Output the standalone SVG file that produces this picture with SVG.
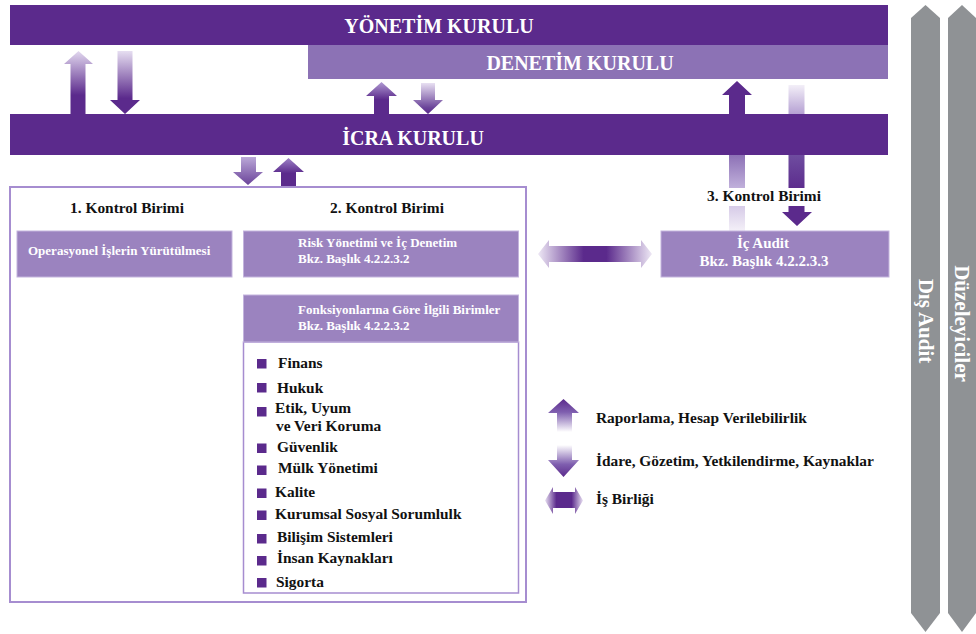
<svg xmlns="http://www.w3.org/2000/svg" width="976" height="634" viewBox="0 0 976 634" font-family="'Liberation Serif', 'DejaVu Serif', serif">
<style>
.bar{fill:#5B2A8C}
.bar2{fill:#8C72B5}
.box{fill:#9B83BF;stroke:#C3B4DD;stroke-width:1}
.frame{fill:#FFFFFF;stroke:#A68DD0;stroke-width:2}
.list{fill:#FFFFFF;stroke:#A68DD0;stroke-width:1.5}
.gray{fill:#8F9295}
.bul{fill:#5B2A8C}
text{font-family:'Liberation Serif','DejaVu Serif',serif;font-weight:bold}
.hdr{font-size:20px;fill:#FFFFFF;text-anchor:middle}
.wt{font-size:13px;fill:#FFFFFF}
.wt15{font-size:15px;fill:#FFFFFF;text-anchor:middle}
.bk{font-size:15.4px;fill:#111111}
.bkc{font-size:15.4px;fill:#111111;text-anchor:middle}
.vt{font-size:21px;fill:#FFFFFF;text-anchor:middle;dominant-baseline:central}
</style>
<defs>
<linearGradient id="gUpL" x1="0" y1="0" x2="0" y2="1"><stop offset="0" stop-color="#E2D8EF"/><stop offset="0.7" stop-color="#5B2A8C"/><stop offset="1" stop-color="#5B2A8C"/></linearGradient>
<linearGradient id="gDnL" x1="0" y1="0" x2="0" y2="1"><stop offset="0" stop-color="#E6DEF1"/><stop offset="0.75" stop-color="#5B2A8C"/><stop offset="1" stop-color="#5B2A8C"/></linearGradient>
<linearGradient id="gUpM" x1="0" y1="0" x2="0" y2="1"><stop offset="0" stop-color="#B09AD2"/><stop offset="0.55" stop-color="#5B2A8C"/><stop offset="1" stop-color="#5B2A8C"/></linearGradient>
<linearGradient id="gDnM" x1="0" y1="0" x2="0" y2="1"><stop offset="0" stop-color="#E8E0F2"/><stop offset="0.8" stop-color="#6A4399"/><stop offset="1" stop-color="#5B2A8C"/></linearGradient>
<linearGradient id="gDnB" x1="0" y1="0" x2="0" y2="1"><stop offset="0" stop-color="#BBA8D8"/><stop offset="1" stop-color="#6A4399"/></linearGradient>
<linearGradient id="gUpB" x1="0" y1="0" x2="0" y2="1"><stop offset="0" stop-color="#9D82C6"/><stop offset="0.55" stop-color="#5B2A8C"/><stop offset="1" stop-color="#5B2A8C"/></linearGradient>
<linearGradient id="gUpR" gradientUnits="userSpaceOnUse" x1="0" y1="81" x2="0" y2="231"><stop offset="0" stop-color="#5B2A8C"/><stop offset="0.22" stop-color="#5B2A8C"/><stop offset="0.5" stop-color="#8E73B7"/><stop offset="0.72" stop-color="#C2B2DC"/><stop offset="1" stop-color="#F4F0F8"/></linearGradient>
<linearGradient id="gDnR" gradientUnits="userSpaceOnUse" x1="0" y1="85" x2="0" y2="226"><stop offset="0" stop-color="#F3EFF8"/><stop offset="0.2" stop-color="#B7A3D4"/><stop offset="0.5" stop-color="#6E4C9F"/><stop offset="0.75" stop-color="#5B2A8C"/><stop offset="1" stop-color="#5B2A8C"/></linearGradient>
<linearGradient id="gH" x1="0" y1="0" x2="1" y2="0"><stop offset="0" stop-color="#EEE8F5"/><stop offset="0.4" stop-color="#5B2A8C"/><stop offset="0.6" stop-color="#5B2A8C"/><stop offset="1" stop-color="#EEE8F5"/></linearGradient>
<linearGradient id="gLegUp" x1="0" y1="0" x2="0" y2="1"><stop offset="0" stop-color="#5B2A8C"/><stop offset="0.4" stop-color="#7F5FAF"/><stop offset="1" stop-color="#FFFFFF"/></linearGradient>
<linearGradient id="gLegDn" x1="0" y1="0" x2="0" y2="1"><stop offset="0" stop-color="#FFFFFF"/><stop offset="0.6" stop-color="#7F5FAF"/><stop offset="1" stop-color="#5B2A8C"/></linearGradient>
<linearGradient id="gLegH" x1="0" y1="0" x2="1" y2="0"><stop offset="0" stop-color="#E8E0F2"/><stop offset="0.3" stop-color="#5B2A8C"/><stop offset="0.7" stop-color="#5B2A8C"/><stop offset="1" stop-color="#E8E0F2"/></linearGradient>
</defs>

<g id="connectors">
<path d="M78.5,51 L93,64 L85.5,64 L85.5,114 L70.5,114 L70.5,64 L64,64 Z" fill="url(#gUpL)"/>
<path d="M117.5,51 L132.5,51 L132.5,100 L140,100 L125,114 L110,100 L117.5,100 Z" fill="url(#gDnL)"/>
<path d="M381.5,82 L397,96 L389,96 L389,114 L374,114 L374,96 L366,96 Z" fill="url(#gUpM)"/>
<path d="M421,83 L435,83 L435,100 L443,100 L428,114 L413,100 L421,100 Z" fill="url(#gDnM)"/>
<path d="M241,157 L256,157 L256,172 L263,172 L248,185 L233,172 L241,172 Z" fill="url(#gDnB)"/>
<path d="M288.5,158 L304,172 L296,172 L296,186 L281,186 L281,172 L273,172 Z" fill="url(#gUpB)"/>
<path d="M737,81 L752,95 L745,95 L745,231 L729,231 L729,95 L722,95 Z" fill="url(#gUpR)"/>
<path d="M788.5,85 L804.5,85 L804.5,212 L812,212 L797,226 L782,212 L788.5,212 Z" fill="url(#gDnR)"/>
<path d="M538,254 L549,240 L549,246 L641,246 L641,240 L652,254 L641,268 L641,262 L549,262 L549,268 Z" fill="url(#gH)"/>
</g>

<g id="yonetim-kurulu">
<rect class="bar" x="10" y="5" width="878" height="40"/>
<text class="hdr" x="439" y="33">YÖNETİM KURULU</text>
</g>
<g id="denetim-kurulu">
<rect class="bar2" x="308" y="45" width="580" height="34"/>
<text class="hdr" x="580" y="70">DENETİM KURULU</text>
</g>
<g id="icra-kurulu">
<rect class="bar" x="10" y="114" width="878" height="41"/>
<text class="hdr" x="413" y="145">İCRA KURULU</text>
</g>

<g id="kontrol-3-label">
<rect x="700" y="188" width="130" height="18" fill="#FFFFFF"/>
<text class="bkc" x="764" y="201">3. Kontrol Birimi</text>
</g>

<g id="kontrol-frame">
<rect class="frame" x="10" y="187" width="516" height="415"/>
<text class="bkc" x="127" y="213">1. Kontrol Birimi</text>
<text class="bkc" x="387" y="213">2. Kontrol Birimi</text>
</g>

<g id="operasyonel">
<rect class="box" x="17" y="231" width="215" height="46"/>
<text class="wt" x="28" y="255">Operasyonel İşlerin Yürütülmesi</text>
</g>

<g id="risk-yonetimi">
<rect class="box" x="243.5" y="231" width="275" height="46"/>
<text class="wt" x="298" y="247">Risk Yönetimi ve İç Denetim</text>
<text class="wt" x="298" y="263">Bkz. Başlık 4.2.2.3.2</text>
</g>

<g id="ilgili-birimler">
<rect class="list" x="243.5" y="342" width="275" height="251"/>
<rect class="box" x="243.5" y="295" width="275" height="47"/>
<text class="wt" x="298" y="314">Fonksiyonlarına Göre İlgili Birimler</text>
<text class="wt" x="298" y="330">Bkz. Başlık 4.2.2.3.2</text>
<rect class="bul" x="257" y="359" width="9.5" height="9.5"/><text class="bk" x="278" y="368">Finans</text>
<rect class="bul" x="257" y="383" width="9.5" height="9.5"/><text class="bk" x="277" y="393">Hukuk</text>
<rect class="bul" x="257" y="407" width="9.5" height="9.5"/><text class="bk" x="275" y="413">Etik, Uyum</text>
<text class="bk" x="276" y="431">ve Veri Koruma</text>
<rect class="bul" x="257" y="443.5" width="9.5" height="9.5"/><text class="bk" x="277" y="452">Güvenlik</text>
<rect class="bul" x="257" y="465.5" width="9.5" height="9.5"/><text class="bk" x="278" y="473">Mülk Yönetimi</text>
<rect class="bul" x="257" y="488.5" width="9.5" height="9.5"/><text class="bk" x="275" y="497">Kalite</text>
<rect class="bul" x="257" y="510.5" width="9.5" height="9.5"/><text class="bk" x="275" y="519">Kurumsal Sosyal Sorumlulk</text>
<rect class="bul" x="257" y="534" width="9.5" height="9.5"/><text class="bk" x="277" y="542">Bilişim Sistemleri</text>
<rect class="bul" x="257" y="556" width="9.5" height="9.5"/><text class="bk" x="277" y="563">İnsan Kaynakları</text>
<rect class="bul" x="257" y="578" width="9.5" height="9.5"/><text class="bk" x="276" y="587">Sigorta</text>
</g>

<g id="ic-audit">
<rect class="box" x="661" y="231" width="228" height="46"/>
<text class="wt15" x="763" y="248">İç Audit</text>
<text class="wt15" x="764" y="266">Bkz. Başlık 4.2.2.3.3</text>
</g>

<g id="dis-audit">
<path class="gray" d="M911,18 L925.5,5 L940,18 L940,613 L925.5,632 L911,613 Z"/>
<text class="vt" transform="translate(925.5,321) rotate(90)">Dış Audit</text>
</g>
<g id="duzeleyiciler">
<path class="gray" d="M948,18 L962,5 L976,18 L976,613 L962,632 L948,613 Z"/>
<text class="vt" transform="translate(962,323.5) rotate(90)">Düzeleyiciler</text>
</g>

<g id="legend">
<path d="M563.5,399 L579,413 L572,413 L572,432 L557,432 L557,413 L548,413 Z" fill="url(#gLegUp)"/>
<text class="bk" x="596" y="423">Raporlama, Hesap Verilebilirlik</text>
<path d="M557,445 L572,445 L572,460 L579,460 L563.5,477 L548,460 L557,460 Z" fill="url(#gLegDn)"/>
<text class="bk" x="596" y="466">İdare, Gözetim, Yetkilendirme, Kaynaklar</text>
<path d="M545,500.5 L553,487 L553,492 L575,492 L575,487 L583,500.5 L575,514 L575,508 L553,508 L553,514 Z" fill="url(#gLegH)"/>
<text class="bk" x="596" y="504">İş Birliği</text>
</g>
</svg>
